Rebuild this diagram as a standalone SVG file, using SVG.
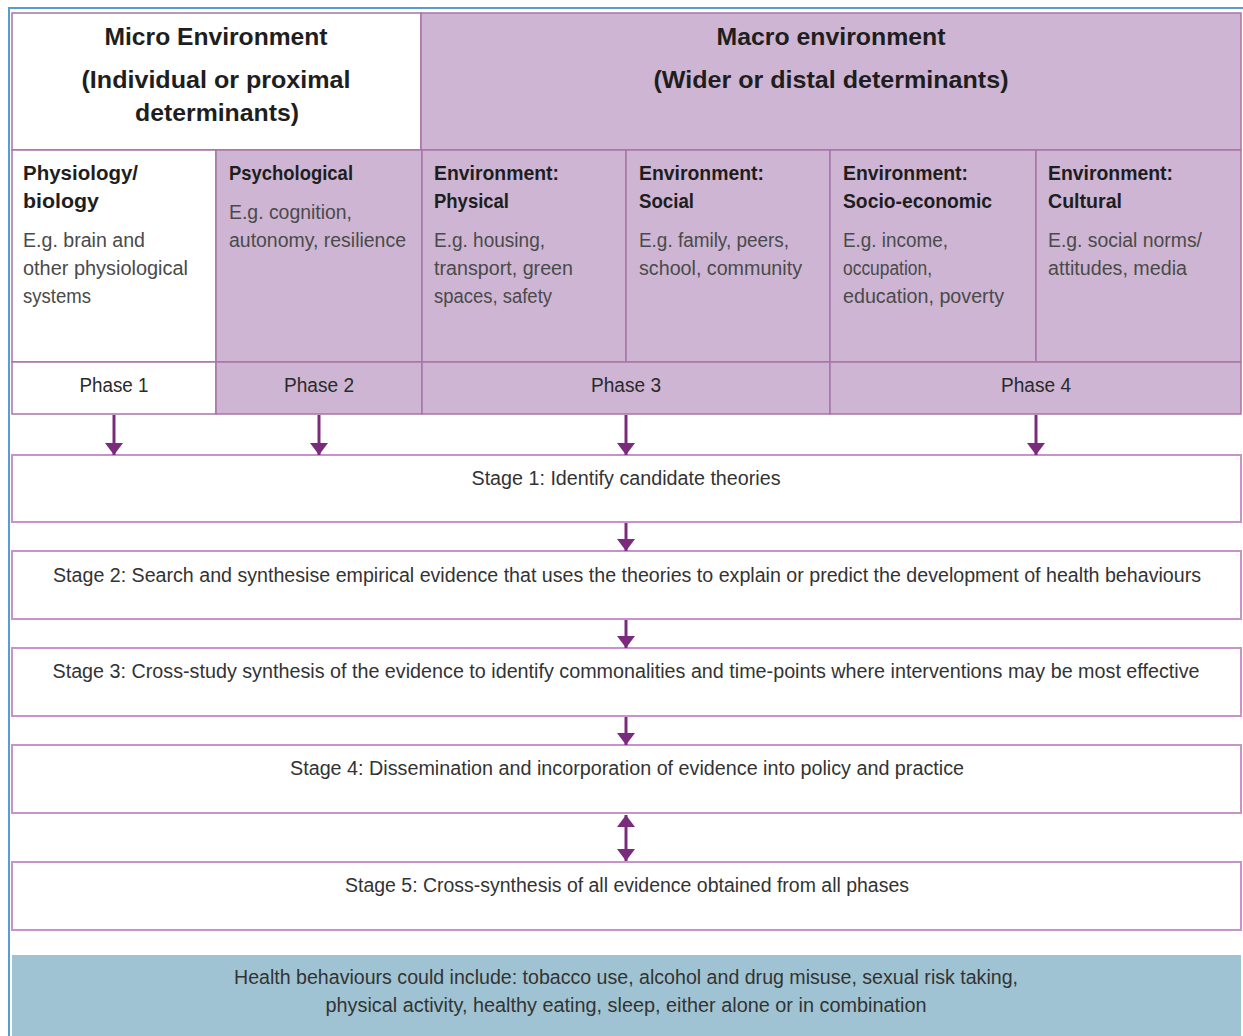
<svg xmlns="http://www.w3.org/2000/svg" width="1243" height="1036" viewBox="0 0 1243 1036">
<style>
.pu{fill:#cdb5d3;stroke:#a874a8;stroke-width:1.5}
.wh{fill:#ffffff;stroke:#a874a8;stroke-width:1.5}
.st{fill:#ffffff;stroke:#c893c8;stroke-width:2}
.hd{font-family:"Liberation Sans",Arial,sans-serif;font-weight:bold;font-size:24px;fill:#1e1e1e;text-anchor:middle}
.ch{font-family:"Liberation Sans",Arial,sans-serif;font-weight:bold;font-size:21px;fill:#1e1e1e}
.bd{font-family:"Liberation Sans",Arial,sans-serif;font-size:20px;fill:#4a4a4a}
.ph{font-family:"Liberation Sans",Arial,sans-serif;font-size:20px;fill:#2a2a2a;text-anchor:middle}
.sg{font-family:"Liberation Sans",Arial,sans-serif;font-size:20px;fill:#333;text-anchor:middle}
.con{stroke:#7b2b7b;stroke-width:3;fill:none}
</style>
<defs>
<marker id="ah" viewBox="0 0 12 18" refX="12" refY="9" markerWidth="12" markerHeight="18" markerUnits="userSpaceOnUse" orient="auto-start-reverse">
<path d="M0,0 L12,9 L0,18 Z" fill="#7b2b7b"/>
</marker>
</defs>
<rect width="1243" height="1036" fill="#ffffff"/>
<path d="M9,1036 L9,8 L1243,8" stroke="#5b9bd5" stroke-width="2" fill="none"/>

<g id="micro-header">
<rect class="wh" x="12" y="13" width="409" height="137"/>
<text class="hd" x="216" y="45" textLength="223" lengthAdjust="spacingAndGlyphs">Micro Environment</text>
<text class="hd" x="216" y="88" textLength="269" lengthAdjust="spacingAndGlyphs">(Individual or proximal</text>
<text class="hd" x="217" y="121" textLength="164" lengthAdjust="spacingAndGlyphs">determinants)</text>
</g>
<g id="macro-header">
<rect class="pu" x="421" y="13" width="820" height="137"/>
<text class="hd" x="831" y="45" textLength="229" lengthAdjust="spacingAndGlyphs">Macro environment</text>
<text class="hd" x="831" y="88" textLength="355" lengthAdjust="spacingAndGlyphs">(Wider or distal determinants)</text>
</g>

<g id="physiology">
<rect class="wh" x="12" y="150" width="204" height="212"/>
<text class="ch" x="23" y="180" textLength="115" lengthAdjust="spacingAndGlyphs">Physiology/</text>
<text class="ch" x="23" y="208" textLength="76" lengthAdjust="spacingAndGlyphs">biology</text>
<text class="bd" x="23" y="247" textLength="122" lengthAdjust="spacingAndGlyphs">E.g. brain and</text>
<text class="bd" x="23" y="275" textLength="165" lengthAdjust="spacingAndGlyphs">other physiological</text>
<text class="bd" x="23" y="303" textLength="68" lengthAdjust="spacingAndGlyphs">systems</text>
</g>
<g id="psychological">
<rect class="pu" x="216" y="150" width="206" height="212"/>
<text class="ch" x="229" y="180" textLength="124" lengthAdjust="spacingAndGlyphs">Psychological</text>
<text class="bd" x="229" y="219" textLength="123" lengthAdjust="spacingAndGlyphs">E.g. cognition,</text>
<text class="bd" x="229" y="247" textLength="177" lengthAdjust="spacingAndGlyphs">autonomy, resilience</text>
</g>
<g id="env-physical">
<rect class="pu" x="422" y="150" width="204" height="212"/>
<text class="ch" x="434" y="180" textLength="125" lengthAdjust="spacingAndGlyphs">Environment:</text>
<text class="ch" x="434" y="208" textLength="75" lengthAdjust="spacingAndGlyphs">Physical</text>
<text class="bd" x="434" y="247" textLength="111" lengthAdjust="spacingAndGlyphs">E.g. housing,</text>
<text class="bd" x="434" y="275" textLength="139" lengthAdjust="spacingAndGlyphs">transport, green</text>
<text class="bd" x="434" y="303" textLength="118" lengthAdjust="spacingAndGlyphs">spaces, safety</text>
</g>
<g id="env-social">
<rect class="pu" x="626" y="150" width="204" height="212"/>
<text class="ch" x="639" y="180" textLength="125" lengthAdjust="spacingAndGlyphs">Environment:</text>
<text class="ch" x="639" y="208" textLength="55" lengthAdjust="spacingAndGlyphs">Social</text>
<text class="bd" x="639" y="247" textLength="150" lengthAdjust="spacingAndGlyphs">E.g. family, peers,</text>
<text class="bd" x="639" y="275" textLength="163" lengthAdjust="spacingAndGlyphs">school, community</text>
</g>
<g id="env-socioeconomic">
<rect class="pu" x="830" y="150" width="206" height="212"/>
<text class="ch" x="843" y="180" textLength="125" lengthAdjust="spacingAndGlyphs">Environment:</text>
<text class="ch" x="843" y="208" textLength="149" lengthAdjust="spacingAndGlyphs">Socio-economic</text>
<text class="bd" x="843" y="247" textLength="105" lengthAdjust="spacingAndGlyphs">E.g. income,</text>
<text class="bd" x="843" y="275" textLength="89" lengthAdjust="spacingAndGlyphs">occupation,</text>
<text class="bd" x="843" y="303" textLength="161" lengthAdjust="spacingAndGlyphs">education, poverty</text>
</g>
<g id="env-cultural">
<rect class="pu" x="1036" y="150" width="205" height="212"/>
<text class="ch" x="1048" y="180" textLength="125" lengthAdjust="spacingAndGlyphs">Environment:</text>
<text class="ch" x="1048" y="208" textLength="74" lengthAdjust="spacingAndGlyphs">Cultural</text>
<text class="bd" x="1048" y="247" textLength="154" lengthAdjust="spacingAndGlyphs">E.g. social norms/</text>
<text class="bd" x="1048" y="275" textLength="139" lengthAdjust="spacingAndGlyphs">attitudes, media</text>
</g>

<g id="phase1">
<rect class="wh" x="12" y="362" width="204" height="52"/>
<text class="ph" x="114" y="392" textLength="69" lengthAdjust="spacingAndGlyphs">Phase 1</text>
</g>
<g id="phase2">
<rect class="pu" x="216" y="362" width="206" height="52"/>
<text class="ph" x="319" y="392" textLength="70" lengthAdjust="spacingAndGlyphs">Phase 2</text>
</g>
<g id="phase3">
<rect class="pu" x="422" y="362" width="408" height="52"/>
<text class="ph" x="626" y="392" textLength="70" lengthAdjust="spacingAndGlyphs">Phase 3</text>
</g>
<g id="phase4">
<rect class="pu" x="830" y="362" width="411" height="52"/>
<text class="ph" x="1036" y="392" textLength="70" lengthAdjust="spacingAndGlyphs">Phase 4</text>
</g>

<g id="stage1">
<rect class="st" x="12" y="455" width="1229" height="67"/>
<text class="sg" x="626" y="485" textLength="309" lengthAdjust="spacingAndGlyphs">Stage 1: Identify candidate theories</text>
</g>
<g id="stage2">
<rect class="st" x="12" y="551" width="1229" height="68"/>
<text class="sg" x="627" y="582" textLength="1148" lengthAdjust="spacingAndGlyphs">Stage 2: Search and synthesise empirical evidence that uses the theories to explain or predict the development of health behaviours</text>
</g>
<g id="stage3">
<rect class="st" x="12" y="648" width="1229" height="68"/>
<text class="sg" x="626" y="678" textLength="1147" lengthAdjust="spacingAndGlyphs">Stage 3: Cross-study synthesis of the evidence to identify commonalities and time-points where interventions may be most effective</text>
</g>
<g id="stage4">
<rect class="st" x="12" y="745" width="1229" height="68"/>
<text class="sg" x="627" y="775" textLength="674" lengthAdjust="spacingAndGlyphs">Stage 4: Dissemination and incorporation of evidence into policy and practice</text>
</g>
<g id="stage5">
<rect class="st" x="12" y="862" width="1229" height="68"/>
<text class="sg" x="627" y="892" textLength="564" lengthAdjust="spacingAndGlyphs">Stage 5: Cross-synthesis of all evidence obtained from all phases</text>
</g>

<g id="health-behaviours">
<rect x="12" y="955" width="1229" height="81" fill="#9fc3d2"/>
<text class="sg" x="626" y="984" textLength="784" lengthAdjust="spacingAndGlyphs" fill="#2a2a2a">Health behaviours could include: tobacco use, alcohol and drug misuse, sexual risk taking,</text>
<text class="sg" x="626" y="1012" textLength="601" lengthAdjust="spacingAndGlyphs" fill="#2a2a2a">physical activity, healthy eating, sleep, either alone or in combination</text>
</g>

<g id="connectors">
<line class="con" x1="114" y1="415" x2="114" y2="455" marker-end="url(#ah)"/>
<line class="con" x1="319" y1="415" x2="319" y2="455" marker-end="url(#ah)"/>
<line class="con" x1="626" y1="415" x2="626" y2="455" marker-end="url(#ah)"/>
<line class="con" x1="1036" y1="415" x2="1036" y2="455" marker-end="url(#ah)"/>
<line class="con" x1="626" y1="523" x2="626" y2="551" marker-end="url(#ah)"/>
<line class="con" x1="626" y1="620" x2="626" y2="648" marker-end="url(#ah)"/>
<line class="con" x1="626" y1="717" x2="626" y2="745" marker-end="url(#ah)"/>
<line class="con" x1="626" y1="815" x2="626" y2="861" marker-start="url(#ah)" marker-end="url(#ah)"/>
</g>
</svg>
